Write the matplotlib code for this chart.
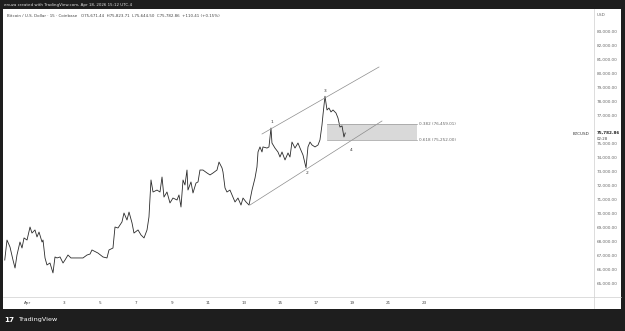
import matplotlib
matplotlib.use("Agg")
import matplotlib.pyplot as plt
from matplotlib.patches import Rectangle
from matplotlib.lines import Line2D

# ---- data (hours since Apr 1 00:00, price USD) ----
hours = [-31, -28, -24, -20, -17.3, -14.7, -10.7, -8, -5.3, -1.3, 2.7, 5.3, 9.3, 12, 14.7,
         18.7, 20, 22.7, 25.3, 29.3, 33.3, 36, 38.7, 42.7, 46.7, 49.3, 53.3, 57.3, 60, 66.7,
         73.3, 78.7, 82.7, 85.3, 93.3, 100, 105.3, 108, 113.3, 116, 120, 125.3, 128, 132,
         134.7, 138.7, 141.3, 146.7, 150.7, 154.7, 158.7, 161.3, 164, 166.7, 172, 176, 178.7,
         181.3, 185.3, 189.3, 193.3, 198.7, 201.3, 204, 206.7, 209.3, 212, 213.3, 217.3, 220,
         224, 226.7, 229.3, 233.3, 238.7, 242.7, 246.7, 252, 254.7, 258.7, 260, 262.7, 265.3,
         269.3, 273.3, 276, 280, 284, 286.7, 290.7, 294.7, 298.7, 302.7, 305.3, 306.7, 309.3,
         312, 313.3, 318.7, 321.3, 324, 325.3, 329.3, 333.3, 336, 338.7, 342.7, 346.7, 349.3,
         352, 356, 360, 362.7, 366.7, 370.7, 373.3, 376, 378.7, 382.7, 386.7, 389.3, 392,
         393.3, 396, 398.7, 401.3, 404, 406.7, 410.7, 413.3, 416, 418.7, 421.3, 423]
prices = [66710, 68140, 67640, 66710, 66140, 67070, 68000, 67570, 68290, 68140, 69070, 68640,
          68860, 68360, 68710, 68000, 68140, 66860, 66360, 66500, 65790, 66930, 66860, 66930,
          66500, 66710, 67070, 66860, 66860, 66860, 66860, 67070, 67140, 67430, 67210, 66930,
          66860, 67430, 67570, 69070, 69000, 69430, 70070, 69570, 70140, 69360, 68640, 68860,
          68500, 68290, 68860, 69790, 72430, 71570, 71710, 71570, 72640, 71210, 71570, 70790,
          71140, 71000, 71360, 70500, 72430, 72070, 73140, 71710, 72290, 71500, 72210, 72290,
          73140, 73140, 72930, 72790, 72930, 73140, 73710, 73290, 73000, 71860, 71570, 71710,
          71210, 70860, 71140, 70640, 71140, 70860, 70640, 71710, 72570, 73360, 74430, 74790,
          74430, 74790, 74710, 74790, 76140, 75070, 74710, 74430, 74070, 74430, 73860, 74360,
          74070, 75140, 74710, 75070, 74710, 74210, 73300, 74790, 75140, 74930, 74790, 74930,
          75290, 76360, 77070, 78410, 77430, 77570, 77290, 77430, 77210, 76860, 76210, 76290,
          75500, 75782.86]

tick_hours = [0, 48, 96, 144, 192, 240, 288, 336, 384, 432, 480, 528]
tick_labels = ["Apr", "3", "5", "7", "9", "11", "13", "15", "17", "19", "21", "23"]
price_ticks = [65000, 66000, 67000, 68000, 69000, 70000, 71000, 72000, 73000, 74000,
               75000, 77000, 78000, 79000, 80000, 81000, 82000, 83000]

upper_channel_h = [312, 468]
upper_channel_p = [75714, 80500]
lower_channel_h = [296, 472]
lower_channel_p = [70643, 76643]

fib_start_h, fib_end_h = 398.7, 518.7
fib_levels = [76459.01, 75252.00]
fib_names = ["0.382", "0.618"]

wave_labels = ["1", "2", "3", "4"]
wave_h = [325.3, 372, 396, 430.7]
wave_p = [76570, 72930, 78790, 74570]

last_price = 75782.86

# ---- figure ----
W, H = 625, 331
fig = plt.figure(figsize=(W / 100, H / 100), dpi=100, facecolor="#1e1e1e")

def fx(x):
    return x / W

def fy(y):
    return 1 - y / H

# white panel
fig.patches.append(Rectangle((fx(3), fy(308.5)), fx(618), (299.5) / H,
                             transform=fig.transFigure, facecolor="white",
                             edgecolor="none", zorder=-5))

ax = fig.add_axes([fx(4), fy(297), 590 / W, 287 / H])
ax.set_zorder(1)
ax.patch.set_alpha(0)
ax.set_xlim(-32, 754.7)
ax.set_ylim(64071, 84571)
for s in ax.spines.values():
    s.set_visible(False)

ax.plot(hours, prices, color="#2b2b2b", lw=0.6)

ax.plot(upper_channel_h, upper_channel_p, color="#8c8c8c", lw=0.5)
ax.plot(lower_channel_h, lower_channel_p, color="#8c8c8c", lw=0.5)

ax.fill_between([fib_start_h, fib_end_h], fib_levels[1], fib_levels[0],
                color="#d9d9d9", lw=0, zorder=0)
for lv, nm in zip(fib_levels, fib_names):
    ax.plot([fib_start_h, fib_end_h], [lv, lv], color="#9a9a9a", lw=0.5)
    ax.text(fib_end_h + 2, lv, f"{nm} ({lv:,.2f})", fontsize=3.0, color="#666666",
            va="center", ha="left")

for lab, h, p in zip(wave_labels, wave_h, wave_p):
    ax.text(h, p, lab, fontsize=3.2, color="#333333", ha="center", va="center")

ax.yaxis.tick_right()
ax.set_yticks(price_ticks)
ax.set_yticklabels([f"{v:,.2f}" for v in price_ticks])
ax.tick_params(axis="y", length=0, pad=2.2, labelsize=3.0, labelcolor="#666666")
ax.set_xticks(tick_hours)
ax.set_xticklabels(tick_labels)
ax.tick_params(axis="x", length=0, pad=3.0, labelsize=3.0, labelcolor="#444444")

# axis separators
fig.lines.append(Line2D([fx(3), fx(621)], [fy(297), fy(297)], transform=fig.transFigure,
                        color="#cfcfcf", lw=0.5))
fig.lines.append(Line2D([fx(594), fx(594)], [fy(9), fy(308)], transform=fig.transFigure,
                        color="#cfcfcf", lw=0.5))

# price axis extras
fig.text(fx(597), fy(15.5), "USD", fontsize=3.0, color="#666666", va="center")
ax.text(1.005, last_price, f"{last_price:,.2f}", transform=ax.get_yaxis_transform(),
        fontsize=3.0, color="#222222", fontweight="bold", va="center", ha="left",
        clip_on=False)
fig.text(fx(597), fy(139.5), "02:28", fontsize=2.8, color="#444444", va="center")
fig.text(fx(589), fy(134), "BTCUSD", fontsize=3.0, color="#333333", va="center", ha="right")

# header & legend
fig.text(fx(4), fy(5), "enuza created with TradingView.com, Apr 18, 2026 15:12 UTC-4",
         fontsize=2.9, color="#e0e0e0", va="center")
fig.text(fx(7), fy(16), "Bitcoin / U.S. Dollar · 15 · Coinbase   O75,671.44  H75,823.71  "
         "L75,644.50  C75,782.86  +110.41 (+0.15%)",
         fontsize=2.9, color="#444444", va="center")

# footer logo
fig.text(fx(4), fy(320), "17", fontsize=5.2, color="white", fontweight="bold", va="center")
fig.text(fx(18), fy(320), "TradingView", fontsize=4.6, color="white", va="center")

fig.savefig("out.png", dpi=100, facecolor=fig.get_facecolor())
